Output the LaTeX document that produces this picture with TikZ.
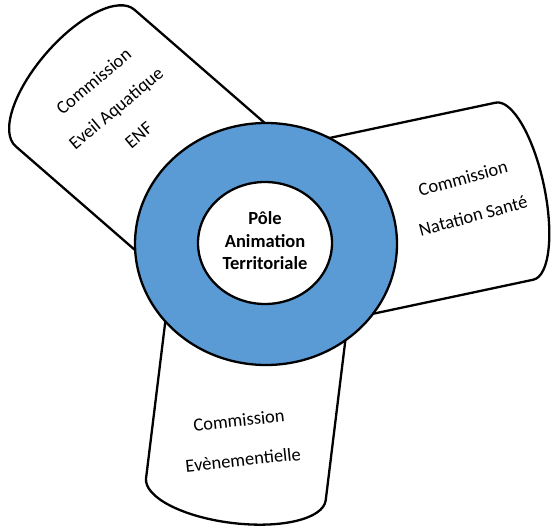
\documentclass[tikz,border=0pt]{standalone}
\usepackage{fontspec}
\setmainfont{Carlito}
\definecolor{ringblue}{RGB}{91,155,213}
\tikzset{
  petal/.style={draw=black, fill=white, line width=2.3pt, line join=round},
  ringline/.style={draw=black, line width=2.3pt},
  ptext/.style={align=center, font=\fontsize{18.5}{36}\selectfont, inner sep=0pt},
  ctext/.style={align=center, font=\bfseries\fontsize{18.5}{22.5}\selectfont, inner sep=0pt}
}
\newcommand{\mypetal}[4]{% angle, length, bulge
  \begin{scope}[shift={(266,287)}, rotate=#1]
    \draw[petal] (0,-90.5) -- (#2,-90.5) arc[start angle=-90, end angle=90, x radius=#3, y radius=90.5] -- (0,90.5) -- cycle;
  \end{scope}
}
\begin{document}
\begin{tikzpicture}[x=1pt,y=1pt]
  \useasboundingbox (0,0) rectangle (551,531);
  \mypetal{139}{253}{38}{}
  \mypetal{12}{254}{30}{}
  \mypetal{-97}{247}{34}{}
  \coordinate (c) at (266,287);
  \draw[ringline, fill=ringblue] (c) ellipse[x radius=131, y radius=121];
  \draw[ringline, fill=white] (265,288) ellipse[x radius=67, y radius=61];
  \node[ctext] (pole) at (265,290) {Pôle\\Animation\\Territoriale};
  \node[ptext, rotate=40, font=\fontsize{18.5}{35}\selectfont] (eveil) at (116,423) {Commission\\Eveil Aquatique\\ENF};
  \node[ptext, rotate=15, font=\fontsize{18.5}{39}\selectfont] (natation) at (468,334) {Commission\\Natation Santé};
  \node[ptext, rotate=6, font=\fontsize{18.5}{40}\selectfont] (even) at (241,91) {Commission\\Evènementielle};
\end{tikzpicture}
\end{document}
